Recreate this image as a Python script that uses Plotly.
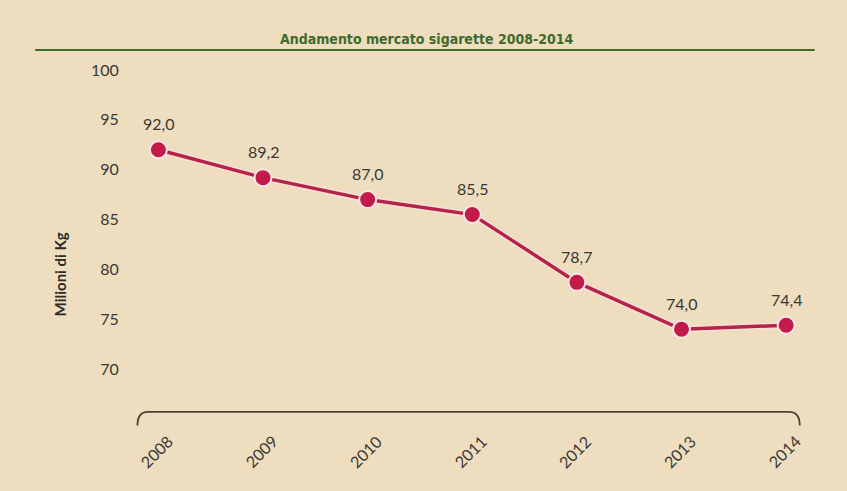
import plotly.graph_objects as go

# Mercato sigarette, milioni di kg
anni = [2008, 2009, 2010, 2011, 2012, 2013, 2014]
volumi = [92.0, 89.2, 87.0, 85.5, 78.7, 74.0, 74.4]
y_ticks = [70, 75, 80, 85, 90, 95, 100]

titolo = "Andamento mercato sigarette 2008-2014"
asse_y = "Milioni di Kg"

BG = "#EEDDBF"
TXT = "#3a3834"
ROSSO = "#C21A4B"
LINEA = "#B5234A"
VERDE = "#3F6A2C"
FONT = "Lato, 'Open Sans', sans-serif"

fig = go.Figure()

# soft halo under the line
fig.add_trace(go.Scatter(
    x=anni, y=volumi, mode="lines",
    line=dict(color="rgba(255,225,225,0.55)", width=7),
    hoverinfo="skip", showlegend=False,
))
fig.add_trace(go.Scatter(
    x=anni, y=volumi, mode="lines+markers",
    line=dict(color=LINEA, width=3.5),
    marker=dict(size=17, color=ROSSO, line=dict(color="#FBE6E6", width=2)),
    showlegend=False,
))

annotations = []
for a, v in zip(anni, volumi):
    annotations.append(dict(
        x=a, y=v, xref="x", yref="y", text=f"{v:.1f}".replace(".", ","),
        showarrow=False, yshift=26, font=dict(family=FONT, size=16, color=TXT),
    ))
    annotations.append(dict(
        x=a, y=-0.105, xref="x", yref="paper", text=str(a), textangle=-45,
        xanchor="center", yanchor="middle", xshift=-2,
        showarrow=False, font=dict(family=FONT, size=16, color=TXT),
    ))

annotations.append(dict(
    x=0.427, y=1.045, xref="paper", yref="paper", text=f"<b>{titolo}</b>",
    xanchor="center", yanchor="middle", showarrow=False,
    font=dict(family="'DejaVu Sans Condensed', 'Liberation Sans Narrow', sans-serif",
              size=14, color=VERDE),
))
annotations.append(dict(
    x=-0.095, y=0.39, xref="paper", yref="paper", text=f"<b>{asse_y}</b>",
    xanchor="center", yanchor="middle",
    textangle=-90, showarrow=False, font=dict(family=FONT, size=15, color="#2b2a28"),
))

shapes = [
    dict(type="line", xref="paper", yref="paper", x0=-0.131, x1=0.981,
         y0=1.014, y1=1.014, line=dict(color=VERDE, width=2)),
    dict(type="path", xref="x", yref="paper",
         path="M 2007.80,-0.032 Q 2007.80,0.006 2007.90,0.006 "
              "L 2014.03,0.006 Q 2014.13,0.006 2014.13,-0.032",
         line=dict(color="#4a4236", width=1.8)),
]

fig.update_layout(
    width=847, height=491,
    margin=dict(l=127, r=19, t=55, b=77),
    paper_bgcolor=BG, plot_bgcolor=BG,
    annotations=annotations, shapes=shapes,
    xaxis=dict(range=[2007.7, 2014.4], showgrid=False, zeroline=False,
               showticklabels=False, showline=False),
    yaxis=dict(range=[65.5, 101.5], tickvals=y_ticks, showgrid=False, zeroline=False,
               showline=False, ticks="outside", ticklen=4, tickcolor="rgba(0,0,0,0)",
               tickfont=dict(family=FONT, size=16, color=TXT)),
)

fig.write_html("out.html")
